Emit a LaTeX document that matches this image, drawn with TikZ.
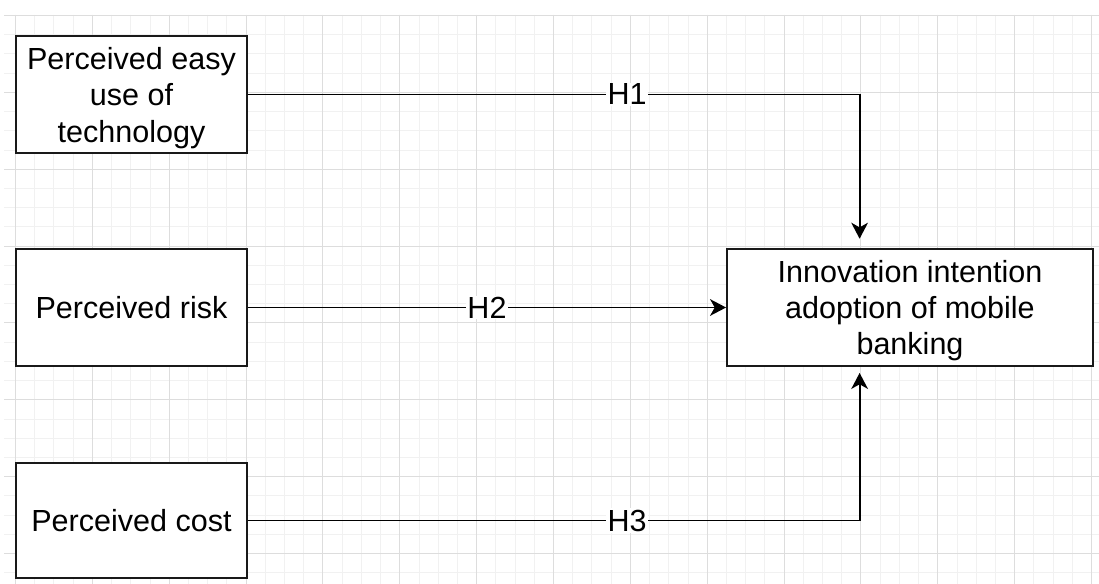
\documentclass[tikz,border=0pt]{standalone}
\usepackage{fontspec}
\setmainfont{Liberation Sans}
\usetikzlibrary{arrows.meta,calc}
\definecolor{gminor}{HTML}{F1F1F1}
\definecolor{gmajor}{HTML}{DDDDDD}
\begin{document}
\begin{tikzpicture}[x=0.75pt,y=-0.75pt,
  box/.style={draw=black!90, line width=1.4pt, fill=white, align=center,
    font=\fontsize{22.9pt}{27pt}\selectfont, minimum width=173.25pt,
    minimum height=87.75pt, inner sep=0pt},
  txt/.style={align=center, inner sep=0pt, font=\fontsize{22.9pt}{27.3pt}\selectfont},
  conn/.style={line width=1.4pt, -{Stealth[length=12pt,width=12.5pt,inset=3.5pt]}},
  lab/.style={fill=white, inner sep=1pt, font=\fontsize{22.9pt}{27pt}\selectfont},
  minorline/.style={draw=gminor, line width=0.75pt},
  majorline/.style={draw=gmajor, line width=0.75pt}]
\useasboundingbox (0,0) rectangle (1099,584);
\fill[white] (0,0) rectangle (1099,584);
% grid
\begin{scope}
  \clip (4,15) rectangle (1099,584);
  \foreach \i in {0,...,56} \draw[minorline] ({15.5+\i*19.215},15) -- ({15.5+\i*19.215},584);
  \foreach \j in {0,...,29} \draw[minorline] (4,{15.5+\j*19.215}) -- (1099,{15.5+\j*19.215});
  \foreach \i in {0,4,...,56} \draw[majorline] ({15.5+\i*19.215},15) -- ({15.5+\i*19.215},584);
  \foreach \j in {0,4,...,28} \draw[majorline] (4,{15.5+\j*19.215}) -- (1099,{15.5+\j*19.215});
\end{scope}
% nodes
\node[box] (a) at (131.5,94.5) {};
\node[txt] (atext) at ([yshift=-2.6pt]a.center) {Perceived easy\\use of\\technology};
\node[box] (b) at (131.5,307.5) {Perceived risk};
\node[box, minimum height=86.5pt] (c) at (131.5,520.5) {Perceived cost};
\node[box, minimum width=274.5pt] (t) at (910,307.5) {};
\node[txt] (ttext) at ([yshift=-2.4pt]t.center) {Innovation intention\\adoption of mobile\\banking};
\coordinate (tn) at ($(t.north west)!0.363!(t.north east)$);
\coordinate (ts) at ($(t.south west)!0.363!(t.south east)$);
% connectors
\draw[conn, shorten >=7pt] (a.east) -| node[lab, pos=0.31] {H1} (tn);
\draw[conn] (b.east) -- node[lab, pos=0.5] {H2} (t.west);
\draw[conn, shorten >=4.5pt] (c.east) -| node[lab, pos=0.31] {H3} (ts);
\end{tikzpicture}
\end{document}
